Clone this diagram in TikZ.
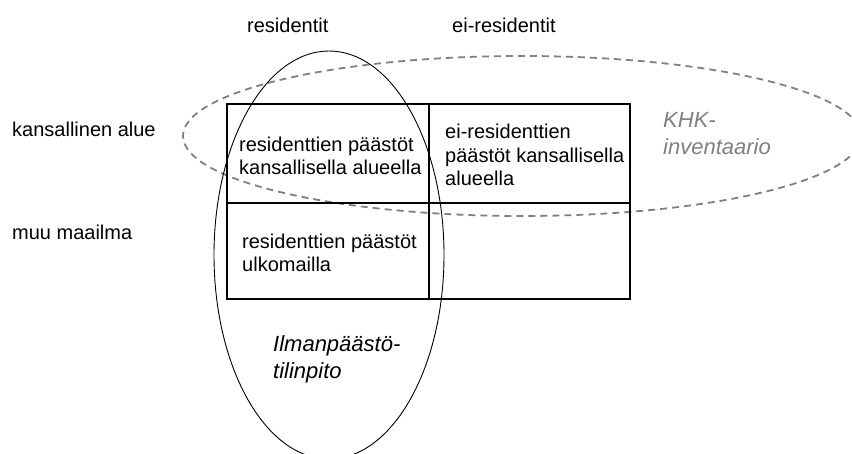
\documentclass[tikz,border=0pt]{standalone}
\usepackage{fontspec}
\setmainfont{Liberation Sans}
\definecolor{dashgray}{HTML}{808080}
\begin{document}
\begin{tikzpicture}[x=1pt,y=-1pt,
  lbl/.style={inner sep=0pt, anchor=base west, align=left, font=\fontsize{20}{23.5}\selectfont},
  ital/.style={inner sep=0pt, anchor=base west, align=left, font=\fontsize{22}{27}\selectfont\itshape},
  gridline/.style={line width=2pt},
  khk/.style={draw=dashgray, line width=1.8pt, dash pattern=on 7pt off 5pt},
  ilma/.style={draw=black, line width=0.9pt}]
\useasboundingbox (0,0) rectangle (852,454);
\clip (0,0) rectangle (852,454);
% KHK inventory ellipse (dashed)
\draw[khk] (522,136) ellipse [x radius=339, y radius=80];
% grid
\draw[gridline] (227,104) rectangle (630,299);
\draw[gridline] (429,104) -- (429,299);
\draw[gridline] (227,203) -- (630,203);
% air emission accounts ellipse
\draw[ilma] (329,255) ellipse [x radius=115, y radius=204];
% headers
\node[lbl] (res) at (247,33) {residentit};
\node[lbl] (eires) at (452,33) {ei-residentit};
\node[lbl] (kans) at (12,137) {kansallinen alue};
\node[lbl] (muu) at (12,240) {muu maailma};
% cells (anchor = baseline of last line)
\node[lbl] (c11) at (239,175) {residenttien päästöt\\kansallisella alueella};
\node[lbl] (c12) at (445,186) {ei-residenttien\\päästöt kansallisella\\alueella};
\node[lbl] (c21) at (242,272) {residenttien päästöt\\ulkomailla};
% ellipse labels
\node[ital] (ilmalbl) at (273,379) {Ilmanpäästö-\\tilinpito};
\node[ital, text=dashgray] (khklbl) at (663,155) {KHK-\\inventaario};
\end{tikzpicture}
\end{document}
